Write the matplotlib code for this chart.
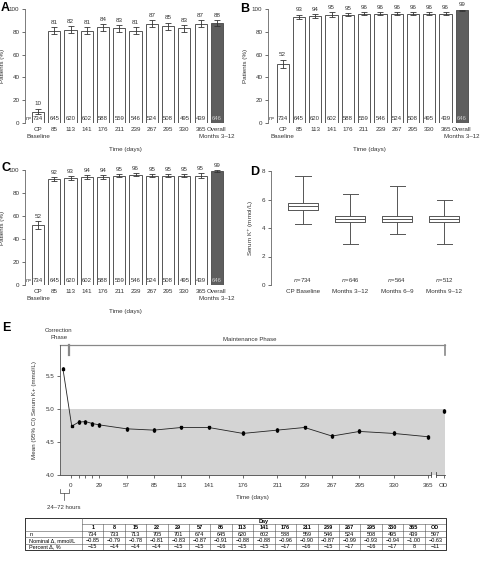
import numpy as np
import matplotlib
matplotlib.use('Agg')
import matplotlib.pyplot as plt
import matplotlib.transforms as mtransforms

plt.rcParams['font.family'] = ['Liberation Sans', 'DejaVu Sans']
plt.rcParams['font.size'] = 4.5
plt.rcParams['axes.linewidth'] = 0.6

# ---- data: bar panels A-C ----
bar_labels = ['CP', '85', '113', '141', '176', '211', '239', '267',
              '295', '330', '365', 'Overall']
bar_sublabels = ['Baseline', 'Months 3–12']
bar_n = [734, 645, 620, 602, 588, 559, 546, 524, 508, 495, 439, 646]
a_vals = [10, 81, 82, 81, 84, 83, 81, 87, 85, 83, 87, 88]
a_err = [2.5, 3, 3, 3, 3, 3, 3, 3, 3, 3, 3, 2.5]
b_vals = [52, 93, 94, 95, 95, 96, 96, 96, 96, 96, 96, 99]
b_err = [3.5, 2, 1.5, 2, 1.5, 1.5, 1.5, 1.5, 1.5, 1.5, 1.5, 0.5]
c_vals = [52, 92, 93, 94, 94, 95, 96, 95, 95, 95, 95, 99]
c_err = [3.5, 1.5, 1.5, 1.5, 1.5, 1.5, 1.5, 1.5, 1.5, 1.5, 2, 0.7]

# ---- data: box panel D ----
d_labels = ['CP Baseline', 'Months 3–12', 'Months 6–9', 'Months 9–12']
d_n = [734, 646, 564, 512]
d_min = [4.26, 2.87, 3.56, 2.87]
d_q1 = [5.29, 4.39, 4.39, 4.39]
d_med = [5.52, 4.62, 4.65, 4.6]
d_q3 = [5.74, 4.85, 4.87, 4.87]
d_max = [7.63, 6.36, 6.94, 5.98]

# ---- data: line panel E ----
e_days = [-8, 1, 8, 15, 22, 29, 57, 85, 113, 141, 176, 211, 239, 267, 295, 330, 365]
e_mean = [5.61, 4.74, 4.80, 4.81, 4.78, 4.76, 4.70, 4.68, 4.72, 4.72, 4.63, 4.68,
          4.72, 4.59, 4.66, 4.63, 4.58]
e_ci = [0.02, 0.02, 0.03, 0.03, 0.03, 0.03, 0.03, 0.03, 0.03, 0.03, 0.03, 0.03,
        0.03, 0.03, 0.03, 0.03, 0.03]
od_day = 381
od_mean = 4.97
od_ci = 0.03
e_ticks = [0, 8, 15, 22, 29, 57, 85, 113, 141, 176, 211, 239, 267, 295, 330, 365, od_day]
e_ticklabels = ['0', '', '', '', '29', '57', '85', '113', '141', '176', '211', '239',
                '267', '295', '330', '365', 'OD']

# ---- data: table ----
tab_days = ['1', '8', '15', '22', '29', '57', '85', '113', '141', '176', '211', '239',
            '267', '295', '330', '365', 'OD']
tab_n = ['734', '733', '713', '705', '701', '674', '645', '620', '602', '588', '559',
         '546', '524', '508', '495', '439', '597']
tab_nom = ['−0.85', '−0.79', '−0.78', '−0.81', '−0.83', '−0.87', '−0.91', '−0.88',
           '−0.88', '−0.96', '−0.90', '−0.87', '−0.99', '−0.93', '−0.94', '−1.00', '−0.63']
tab_pct = ['−15', '−14', '−14', '−14', '−15', '−15', '−16', '−15', '−15', '−17', '−16',
           '−15', '−17', '−16', '−17', '8', '−11']
row_names = ['n', 'Nominal Δ, mmol/L', 'Percent Δ, %']

W, H = 480, 565
fig = plt.figure(figsize=(W / 100, H / 100), dpi=100)


def px(left, top, right, bottom):
    return [left / W, 1 - bottom / H, (right - left) / W, (bottom - top) / H]


def bar_panel(ax, vals, errs, left):
    x = np.arange(len(vals))
    colors = ['white'] * (len(vals) - 1) + ['#5e5e5e']
    ax.bar(x, vals, width=0.75, color=colors, edgecolor='#555555', linewidth=0.7, zorder=2)
    ax.errorbar(x, vals, yerr=errs, fmt='none', ecolor='#333333', elinewidth=0.6,
                capsize=2, capthick=0.6, zorder=3)
    for xi, v, e in zip(x, vals, errs):
        ax.text(xi, v + e + 2, str(v), ha='center', va='bottom', fontsize=4.5, color='#333333')
    for xi, n in zip(x, bar_n):
        col = '#cccccc' if xi == x[-1] else '#333333'
        ax.text(xi, 4, str(n), ha='center', va='center', fontsize=4.3, color=col, zorder=4)
    ax.text(left + 0.05, 4, 'n=', style='italic', ha='left', va='center', fontsize=4, color='#333333')
    ax.set_xlim(left, 11.5)
    ax.set_ylim(0, 100)
    ax.set_xticks(x, bar_labels)
    # second line under first and last tick labels
    tr = mtransforms.blended_transform_factory(ax.transData, ax.transAxes)
    ax.text(x[0], -0.115, bar_sublabels[0], transform=tr, ha='center', va='center',
            fontsize=4.5, color='#333333')
    ax.text(x[-1], -0.115, bar_sublabels[1], transform=tr, ha='center', va='center',
            fontsize=4.4, color='#333333')
    ax.set_yticks([0, 20, 40, 60, 80, 100])
    ax.tick_params(axis='x', length=0, pad=3, labelsize=4.5, colors='#333333')
    ax.tick_params(axis='y', length=2, width=0.5, pad=2, labelsize=4.5, colors='#333333')
    for s in ['top', 'right', 'bottom']:
        ax.spines[s].set_visible(False)
    ax.spines['left'].set_color('#666666')
    ax.set_ylabel('Patients (%)', fontsize=4.5, labelpad=3, color='#333333')
    ax.set_xlabel('Time (days)', fontsize=4.5, labelpad=11, color='#333333')


axA = fig.add_axes(px(25, 9, 225, 123))
bar_panel(axA, a_vals, a_err, -0.8)
axB = fig.add_axes(px(268, 9, 470, 123))
bar_panel(axB, b_vals, b_err, -0.9)
axC = fig.add_axes(px(25, 170, 225, 285))
bar_panel(axC, c_vals, c_err, -0.8)

# ---- panel D ----
axD = fig.add_axes(px(271, 171, 470, 285))
stats = []
for i in range(len(d_labels)):
    stats.append({'whislo': d_min[i], 'q1': d_q1[i], 'med': d_med[i], 'q3': d_q3[i],
                  'whishi': d_max[i], 'fliers': [], 'label': d_labels[i]})
grey = '#555555'
axD.bxp(stats, positions=np.arange(4), widths=0.64, showfliers=False,
        boxprops=dict(color=grey, linewidth=0.7),
        medianprops=dict(color=grey, linewidth=0.7),
        whiskerprops=dict(color=grey, linewidth=0.7),
        capprops=dict(color=grey, linewidth=0.7), capwidths=0.32)
for i, n in enumerate(d_n):
    axD.text(i, 0.35, f'$n$={n}', ha='center', va='center', fontsize=4.3, color='#333333')
axD.set_xlim(-0.68, 3.55)
axD.set_ylim(0, 8)
axD.set_yticks([0, 2, 4, 6, 8])
axD.tick_params(axis='x', length=0, pad=3, labelsize=4.5, colors='#333333')
axD.tick_params(axis='y', length=2, width=0.5, pad=2, labelsize=4.5, colors='#333333')
for s in ['top', 'right', 'bottom']:
    axD.spines[s].set_visible(False)
axD.spines['left'].set_color('#666666')
axD.set_ylabel('Serum K$^{+}$ (mmol/L)', fontsize=4.5, labelpad=4, color='#333333')

# ---- panel E ----
axE = fig.add_axes(px(60, 345, 445, 475))
xmin, xmax = -11, 382.5
axE.set_xlim(xmin, xmax)
axE.set_ylim(4.0, 5.97)
axE.axhspan(4.0, 5.0, color='#d4d4d4', zorder=0, lw=0)
axE.plot(e_days, e_mean, color='#222222', lw=0.6, zorder=2)
axE.errorbar(e_days, e_mean, yerr=e_ci, fmt='s', ms=1.5, color='black', elinewidth=0.5,
             capsize=1, capthick=0.5, zorder=3)
axE.errorbar([od_day], [od_mean], yerr=[od_ci], fmt='s', ms=1.5, color='black', elinewidth=0.5,
             capsize=1, capthick=0.5, zorder=3, clip_on=False)
for s in ['top', 'right', 'bottom']:
    axE.spines[s].set_visible(False)
axE.spines['left'].set_color('#555555')
# broken bottom axis
axE.plot([xmin, 368], [4.0, 4.0], color='#444444', lw=0.6, clip_on=False)
axE.plot([373, xmax], [4.0, 4.0], color='#444444', lw=0.6, clip_on=False)
for bx in [368, 373]:
    axE.plot([bx, bx], [3.97, 4.05], color='#444444', lw=0.6, clip_on=False)
axE.set_xticks(e_ticks, e_ticklabels)
axE.set_yticks([4.0, 4.5, 5.0, 5.5])
axE.tick_params(axis='x', length=2, width=0.5, pad=4, labelsize=4.5, colors='#333333')
axE.tick_params(axis='y', length=2, width=0.5, pad=2, labelsize=4.5, colors='#333333')
axE.set_xlabel('Time (days)', fontsize=4.5, labelpad=5, color='#333333')
axE.set_ylabel('Mean (95% CI) Serum K+ (mmol/L)', fontsize=4.5, labelpad=6, color='#333333')

tr = mtransforms.blended_transform_factory(axE.transData, axE.transAxes)
axE.plot([xmin, xmax], [1, 1], transform=tr, color='#888888', lw=0.9, clip_on=False)
axE.plot([-1.7, -1.7], [1, 0.92], transform=tr, color='#888888', lw=1.6, clip_on=False)
axE.plot([xmax - 0.5, xmax - 0.5], [1, 0.92], transform=tr, color='#888888', lw=1.2, clip_on=False)
axE.text(-12, 1.085, 'Correction\nPhase', transform=tr, ha='center', va='center', fontsize=4.3,
         color='#333333', linespacing=1.3)
axE.text(183, 1.04, 'Maintenance Phase', transform=tr, ha='center', va='center', fontsize=4.3,
         color='#333333')
# 24-72 hours bracket
axE.plot([xmin, xmin, -1.7, -1.7], [-0.11, -0.14, -0.14, -0.11], transform=tr,
         color='#444444', lw=0.5, clip_on=False)
axE.plot([-7, -7], [-0.14, -0.19], transform=tr, color='#444444', lw=0.5, clip_on=False)
axE.text(-7, -0.25, '24–72 hours', transform=tr, ha='center', va='center', fontsize=4.3,
         color='#333333')

# ---- table ----
axT = fig.add_axes(px(25, 518, 446, 550))
axT.set_xlim(0, 1)
axT.set_ylim(5, 0)
axT.axis('off')
c0 = 57 / 421
cw = (1 - c0) / len(tab_days)
lc = '#555555'
axT.plot([0, 1, 1, 0, 0], [0, 0, 5, 5, 0], color='#333333', lw=0.7, clip_on=False)
axT.plot([c0, 1], [1, 1], color=lc, lw=0.4)
for r in [2, 3, 4]:
    axT.plot([0, 1], [r, r], color=lc, lw=0.4)
axT.plot([c0, c0], [0, 5], color=lc, lw=0.4)
for j in range(1, len(tab_days)):
    axT.plot([c0 + j * cw] * 2, [1, 5], color=lc, lw=0.4)
axT.text(c0 + (1 - c0) / 2, 0.5, 'Day', ha='center', va='center', fontsize=4, fontweight='bold')
for j, d in enumerate(tab_days):
    xc = c0 + (j + 0.5) * cw
    axT.text(xc, 1.5, d, ha='center', va='center', fontsize=4, fontweight='bold')
    axT.text(xc, 2.5, tab_n[j], ha='center', va='center', fontsize=4)
    axT.text(xc, 3.5, tab_nom[j], ha='center', va='center', fontsize=4)
    axT.text(xc, 4.5, tab_pct[j], ha='center', va='center', fontsize=4)
for i, name in enumerate(row_names):
    axT.text(0.01, 2.5 + i, name, ha='left', va='center', fontsize=4)

# panel letters
for letter, (lx, ly) in {'A': (1, 8), 'B': (240, 9), 'C': (1, 168), 'D': (250, 172),
                         'E': (2, 328)}.items():
    fig.text(lx / W, 1 - ly / H, letter, fontsize=9, fontweight='bold', ha='left', va='center')

fig.savefig('out.png', dpi=100)
